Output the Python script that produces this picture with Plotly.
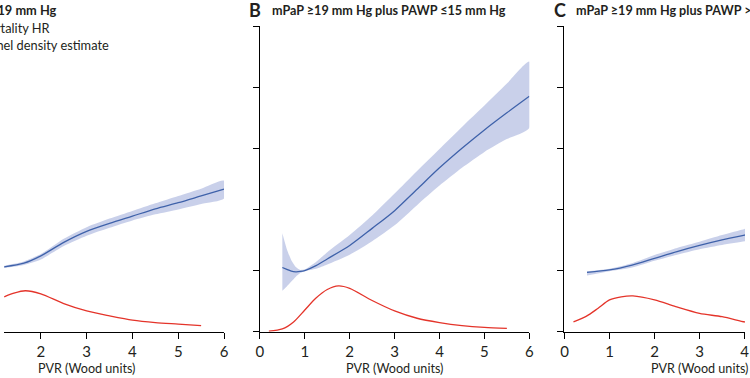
import plotly.graph_objects as go

W, H = 750, 378

# ---------------- data ----------------
# Panel A (mPaP >=19 mm Hg) - only right part visible
a_x = [1.2, 1.63, 2.0, 2.5, 3.0, 3.5, 4.0, 4.5, 5.0, 5.5, 6.0]
a_hr = [1.06, 1.12, 1.24, 1.46, 1.64, 1.77, 1.89, 2.01, 2.11, 2.22, 2.33]
a_up = [1.08, 1.15, 1.27, 1.52, 1.71, 1.85, 1.975, 2.10, 2.22, 2.34, 2.47]
a_lo = [1.04, 1.09, 1.18, 1.40, 1.57, 1.70, 1.82, 1.92, 2.00, 2.09, 2.18]
a_kx = [1.2, 1.41, 1.66, 2.0, 2.5, 3.0, 3.5, 4.0, 4.5, 5.0, 5.5]
a_kd = [0.57, 0.63, 0.67, 0.62, 0.46, 0.34, 0.26, 0.19, 0.15, 0.125, 0.10]

# Panel B (mPaP >=19 mm Hg plus PAWP <=15 mm Hg)
b_x = [0.5, 0.6, 0.7, 0.8, 0.9, 1.0, 1.25, 1.5, 2.0, 2.5, 3.0, 3.5, 4.0, 4.5, 5.0, 5.5, 6.0]
b_hr = [1.05, 1.02, 0.99, 0.98, 0.985, 1.0, 1.08, 1.19, 1.41, 1.69, 1.98, 2.33, 2.68, 3.00, 3.30, 3.58, 3.85]
b_up = [1.61, 1.35, 1.17, 1.06, 1.01, 1.02, 1.14, 1.30, 1.58, 1.90, 2.26, 2.63, 2.99, 3.35, 3.70, 4.06, 4.42]
b_lo = [0.67, 0.74, 0.82, 0.90, 0.96, 0.99, 1.03, 1.10, 1.26, 1.48, 1.74, 2.07, 2.39, 2.68, 2.94, 3.15, 3.33]
b_kx = [0.2, 0.5, 0.75, 1.0, 1.25, 1.5, 1.75, 2.0, 2.5, 3.0, 3.5, 4.0, 4.5, 5.0, 5.5]
b_kd = [0.01, 0.045, 0.16, 0.355, 0.55, 0.69, 0.75, 0.71, 0.51, 0.34, 0.22, 0.15, 0.10, 0.07, 0.055]

# Panel C (mPaP >=19 mm Hg plus PAWP >15 mm Hg) - only left part visible
c_x = [0.5, 1.0, 1.5, 2.0, 2.5, 3.0, 3.5, 4.0, 4.1]
c_hr = [0.97, 1.01, 1.09, 1.20, 1.31, 1.41, 1.50, 1.58, 1.59]
c_up = [0.99, 1.03, 1.12, 1.255, 1.37, 1.47, 1.58, 1.68, 1.70]
c_lo = [0.92, 0.99, 1.05, 1.16, 1.26, 1.35, 1.42, 1.48, 1.49]
c_kx = [0.2, 0.48, 0.74, 1.0, 1.26, 1.52, 2.0, 2.47, 3.0, 3.5, 4.0, 4.1]
c_kd = [0.16, 0.25, 0.38, 0.52, 0.57, 0.585, 0.52, 0.41, 0.30, 0.245, 0.16, 0.15]

x_ticks = [0, 1, 2, 3, 4, 5, 6]
y_ticks = [0, 1, 2, 3, 4, 5]

BLUE = "#3f62aa"
BAND = "rgba(180,190,226,0.72)"
RED = "#e4342a"
INK = "#231f20"
FONT = "Lato"

fig = go.Figure()

panels = [
    ("x", "y", a_x, a_hr, a_up, a_lo, a_kx, a_kd),
    ("x2", "y2", b_x, b_hr, b_up, b_lo, b_kx, b_kd),
    ("x3", "y3", c_x, c_hr, c_up, c_lo, c_kx, c_kd),
]
for xa, ya, x, hr, up, lo, kx, kd in panels:
    fig.add_trace(go.Scatter(x=x + x[::-1], y=up + lo[::-1], fill="toself",
                             fillcolor=BAND, line=dict(width=0, shape="spline", smoothing=0.6), mode="lines",
                             xaxis=xa, yaxis=ya, showlegend=False, hoverinfo="skip"))
    fig.add_trace(go.Scatter(x=x, y=hr, mode="lines",
                             line=dict(color=BLUE, width=1.3, shape="spline", smoothing=0.8),
                             xaxis=xa, yaxis=ya, showlegend=False))
    fig.add_trace(go.Scatter(x=kx, y=kd, mode="lines",
                             line=dict(color=RED, width=1.3, shape="spline", smoothing=0.8),
                             xaxis=xa, yaxis=ya, showlegend=False))

# pixel geometry
y_bot, y_top = 331.7, 26.0
ydom = [1 - y_bot / H, 1 - y_top / H]

a_left_val = 55.4 / 46.35
xaxis_common = dict(showline=True, linecolor="black", linewidth=1.4, ticks="outside",
                    ticklen=6, tickwidth=1.3, tickcolor="black", showgrid=False, zeroline=False,
                    tickvals=x_ticks, tickfont=dict(family=FONT, size=15, color=INK))
yaxis_common = dict(range=[0, 5], domain=ydom, showgrid=False, zeroline=False,
                    tickvals=y_ticks, showticklabels=False)

fig.update_layout(
    width=W, height=H, margin=dict(l=0, r=0, t=0, b=0),
    paper_bgcolor="white", plot_bgcolor="white",
    xaxis=dict(domain=[0, 222.7 / W], range=[a_left_val, 6], anchor="y", **xaxis_common),
    yaxis=dict(anchor="x", showline=False, ticks="", **yaxis_common),
    xaxis2=dict(domain=[259 / W, 531.7 / W], range=[0, 6], anchor="y2", **xaxis_common),
    yaxis2=dict(anchor="x2", showline=True, linecolor="black", linewidth=1.4, ticks="outside",
                ticklen=6, tickwidth=1.3, tickcolor="black", **yaxis_common),
    xaxis3=dict(domain=[567.3 / W, 1], range=[0, (W - 567.3) / 45.57], anchor="y3", **xaxis_common),
    yaxis3=dict(anchor="x3", showline=True, linecolor="black", linewidth=1.4, ticks="outside",
                ticklen=6, tickwidth=1.3, tickcolor="black", **yaxis_common),
)

ann = []
def text(x, y, s, size, bold=False, xanchor="left"):
    ann.append(dict(x=x / W, y=1 - y / H, xref="paper", yref="paper", text=(f"<b>{s}</b>" if bold else s),
                    showarrow=False, xanchor=xanchor, yanchor="middle",
                    font=dict(family=FONT, size=size, color=INK)))

# titles
text(56, 10, "A&nbsp;&nbsp;mPaP ≥19 mm Hg", 12.8, True, "right")
text(246, 10, "B", 18, True)
text(269, 10, "mPaP ≥19 mm Hg plus PAWP ≤15 mm Hg", 12.6, True)
text(555, 10, "C", 18, True)
text(577, 10, "mPaP ≥19 mm Hg plus PAWP >15 mm Hg", 12.6, True)
# legend (symbols off-screen)
text(49, 28, "Mortality HR", 12.8, False, "right")
text(108, 45, "Kernel density estimate", 12.8, False, "right")
# x-axis titles
text(83.6, 368, "PVR (Wood units)", 12.6, False, "center")
text(395.3, 368, "PVR (Wood units)", 12.6, False, "center")
text(704, 368, "PVR (Wood units)", 12.6, False, "center")
fig.update_layout(annotations=ann)

fig.write_html("out.html", config={"displayModeBar": False},
               post_script="document.body.style.margin='0';document.body.style.overflow='hidden';")
